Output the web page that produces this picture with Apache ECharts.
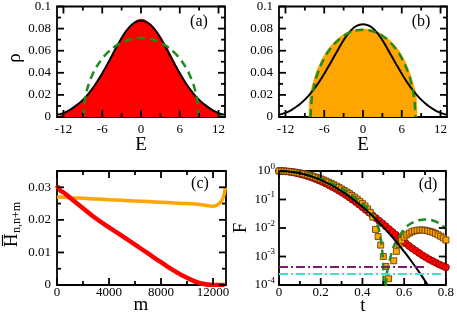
<!DOCTYPE html>
<html><head><meta charset="utf-8">
<script src="https://cdn.jsdelivr.net/npm/echarts@6/dist/echarts.min.js"></script>
<style>html,body{margin:0;padding:0;background:#fff}#c{width:457px;height:315px}</style>
</head><body><div id="c"></div>
<script>
// ---------- Panel (a) ----------
const histEnergyA = [-12.75,-12.5,-12,-11.5,-11,-10.5,-10,-9.5,-9,-8.5,-8,-7.5,-7,-6.5,-6,-5.5,-5,-4.5,-4,-3.5,-3,-2.5,-2,-1.5,-1,-0.5,0,0.5,1,1.5,2,2.5,3,3.5,4,4.5,5,5.5,6,6.5,7,7.5,8,8.5,9,9.5,10,10.5,11,11.5,12,12.5,12.75];
const histRhoA = [0,0.0010,0.0030,0.0045,0.0063,0.0080,0.0102,0.0128,0.0152,0.0185,0.0218,0.0258,0.0298,0.0345,0.0393,0.0448,0.0502,0.0557,0.0612,0.0665,0.0716,0.0762,0.0803,0.0838,0.0862,0.0878,0.0885,0.0880,0.0862,0.0842,0.0810,0.0772,0.0728,0.0680,0.0628,0.0573,0.0515,0.0458,0.0402,0.0350,0.0302,0.0260,0.0220,0.0185,0.0153,0.0126,0.0101,0.0080,0.0062,0.0046,0.0031,0.0012,0];
const curveEnergy = [-13,-12,-11,-10,-9,-8,-7,-6,-5,-4,-3,-2,-1,0,1,2,3,4,5,6,7,8,9,10,11,12,13];
const gaussRhoA = [0.0020,0.0035,0.0065,0.0105,0.0155,0.0220,0.0300,0.0395,0.0500,0.0610,0.0715,0.0800,0.0853,0.0870,0.0853,0.0800,0.0715,0.0610,0.0500,0.0395,0.0300,0.0220,0.0155,0.0105,0.0065,0.0035,0.0020];
const semiEnergyA = [-8.9,-8.8,-8.6,-8.3,-8,-7.5,-7,-6,-5,-4,-3,-2,-1,0,1,2,3,4,5,6,7,7.5,8,8.3,8.6,8.8,8.9];
const semiRhoA = [0,0.0107,0.0184,0.0258,0.0313,0.0385,0.0442,0.0528,0.0592,0.0639,0.0673,0.0697,0.0710,0.0715,0.0710,0.0697,0.0673,0.0639,0.0592,0.0528,0.0442,0.0385,0.0313,0.0258,0.0184,0.0107,0];
// ---------- Panel (b) ----------
const histEnergyB = [-8.35,-8.25,-8.1,-7.8,-7.5,-7,-6,-5,-4,-3,-2,-1,0,1,2,3,4,5,6,7,7.5,7.8,8.1,8.25,8.35];
const histRhoB = [0,0.0150,0.0220,0.0290,0.0350,0.0435,0.0555,0.0640,0.0700,0.0745,0.0775,0.0790,0.0795,0.0790,0.0775,0.0745,0.0700,0.0640,0.0555,0.0435,0.0350,0.0290,0.0220,0.0150,0];
const gaussRhoB = [0.0020,0.0037,0.0066,0.0106,0.0157,0.0222,0.0300,0.0392,0.0492,0.0596,0.0695,0.0775,0.0825,0.0840,0.0825,0.0775,0.0695,0.0596,0.0492,0.0392,0.0300,0.0222,0.0157,0.0106,0.0066,0.0037,0.0020];
const semiEnergyB = [-8.1,-8,-7.8,-7.5,-7,-6,-5,-4,-3,-2,-1,0,1,2,3,4,5,6,7,7.5,7.8,8,8.1];
const semiRhoB = [0,0.0124,0.0213,0.0298,0.0398,0.0531,0.0622,0.0687,0.0734,0.0766,0.0784,0.0790,0.0784,0.0766,0.0734,0.0687,0.0622,0.0531,0.0398,0.0298,0.0213,0.0124,0];
// ---------- Panel (c) ----------
const lagRed = [0,250,500,1000,2000,3000,4000,5000,6000,7000,8000,9000,10000,11000,12000,12900];
const hRed = [0.0305,0.0290,0.0284,0.0268,0.0236,0.0204,0.0177,0.0151,0.0124,0.0097,0.0070,0.0044,0.0022,0.0006,0.0000,0.0000];
const lagOrange = [0,1000,2000,3000,4000,5000,6000,7000,8000,9000,10000,11000,11500,12000,12300,12600,12800,12950];
const hOrange = [0.0271,0.0268,0.0266,0.0264,0.0262,0.0260,0.0258,0.0256,0.0254,0.0252,0.0250,0.0247,0.0244,0.0242,0.0245,0.0255,0.0270,0.0300];
// ---------- Panel (d) ----------
const timeRed = [0,0.016,0.032,0.048,0.064,0.08,0.096,0.112,0.128,0.144,0.16,0.176,0.192,0.208,0.224,0.24,0.256,0.272,0.288,0.304,0.32,0.336,0.352,0.368,0.384,0.4,0.416,0.432,0.448,0.464,0.48,0.496,0.512,0.528,0.544,0.56,0.576,0.592,0.608,0.624,0.64,0.656,0.672,0.688,0.704,0.72,0.736,0.752,0.768,0.784,0.8];
const fRed = [1,0.992,0.972,0.942,0.904,0.859,0.808,0.753,0.697,0.638,0.581,0.522,0.468,0.414,0.365,0.318,0.275,0.237,0.202,0.171,0.144,0.120,0.0989,0.0813,0.0664,0.0537,0.0432,0.0347,0.0279,0.0224,0.0180,0.0145,0.0115,0.00912,0.00724,0.00575,0.00457,0.00363,0.00288,0.00234,0.00191,0.00158,0.00132,0.00110,0.000933,0.000794,0.000692,0.000603,0.000525,0.000468,0.000417];
const timeOrange = [0,0.0125,0.025,0.0375,0.05,0.0625,0.075,0.0875,0.1,0.1125,0.125,0.1375,0.15,0.1625,0.175,0.1875,0.2,0.2125,0.225,0.2375,0.25,0.2625,0.275,0.2875,0.3,0.3125,0.325,0.3375,0.35,0.3625,0.375,0.3875,0.4,0.4125,0.425,0.4375,0.45,0.4625,0.475,0.4875,0.5,0.5125,0.525,0.55,0.5625,0.575,0.5875,0.6,0.6125,0.625,0.6375,0.65,0.6625,0.675,0.6875,0.7,0.7125,0.725,0.7375,0.75,0.7625,0.775,0.7875,0.8];
const fOrange = [1,0.998,0.991,0.977,0.962,0.940,0.914,0.885,0.853,0.817,0.778,0.738,0.697,0.655,0.612,0.570,0.528,0.486,0.445,0.405,0.366,0.330,0.296,0.265,0.234,0.207,0.183,0.160,0.139,0.120,0.102,0.0861,0.0716,0.0589,0.0468,0.0355,0.0240,0.00891,0.00501,0.00251,0.00100,0.000447,0.000166,0.000708,0.00151,0.00263,0.00372,0.00479,0.00575,0.00661,0.00741,0.00794,0.00832,0.00851,0.00851,0.00832,0.00794,0.00759,0.00708,0.00646,0.00575,0.00513,0.00447,0.00380];
const timeBlack = [0,0.04,0.08,0.12,0.16,0.2,0.24,0.28,0.32,0.36,0.4,0.44,0.48,0.52,0.56,0.6,0.64,0.68,0.72];
const fBlack = [1,0.971,0.891,0.770,0.629,0.485,0.353,0.242,0.157,0.0958,0.0553,0.0301,0.0155,0.0075,0.00343,0.00148,0.000604,0.000232,0.0000841];
const timeGreen = [0,0.04,0.08,0.12,0.16,0.2,0.24,0.28,0.32,0.36,0.4,0.42,0.44,0.46,0.475,0.485,0.495,0.5,0.505,0.51,0.515,0.525,0.535,0.55,0.565,0.58,0.6,0.62,0.643,0.67,0.7,0.73,0.76,0.78,0.8];
const fGreen = [1,0.975,0.904,0.794,0.665,0.528,0.398,0.285,0.193,0.123,0.0724,0.0525,0.0355,0.0209,0.0112,0.00562,0.00158,0.000398,0.00001,0.0000316,0.0002,0.0005,0.001,0.00224,0.00372,0.00562,0.00891,0.0126,0.0158,0.0186,0.02,0.0191,0.0158,0.0126,0.00955];
const purpleLevel = 0.00043, purpleEnd = 0.71;
const cyanLevel = 0.000245, cyanEnd = 0.79;
// ---------- Ticks ----------
const ticksE = [-12,-6,0,6,12], minorE = [-9,-3,3,9];
const ticksRho = [0,0.02,0.04,0.06,0.08,0.1], minorRho = [0.01,0.03,0.05,0.07,0.09];
const ticksM = [0,4000,8000,12000], minorM = [2000,6000,10000];
const ticksH = [0,0.01,0.02,0.03], minorH = [0.005,0.015,0.025];
const ticksT = [0,0.2,0.4,0.6,0.8], minorT = [0.1,0.3,0.5,0.7];
const ticksF = [0.0001,0.001,0.01,0.1,1];

const FONT = 'Liberation Serif';
const zip = (a, b) => a.map((v, i) => [v, b[i]]);

const frame = {show: true, borderColor: '#000', borderWidth: 1.8, backgroundColor: 'transparent'};
const grids = [
  Object.assign({left: 57, top: 5, width: 168, height: 112}, frame),
  Object.assign({left: 279, top: 5, width: 168, height: 112}, frame),
  Object.assign({left: 57, top: 171, width: 169, height: 114}, frame),
  Object.assign({left: 279, top: 171, width: 168, height: 114}, frame)
];

function mkAxis(gi, pos, type, min, max, label) {
  const a = {gridIndex: gi, position: pos, type: type, min: min, max: max,
    axisLine: {show: false, onZero: false}, axisTick: {show: false}, minorTick: {show: false},
    splitLine: {show: false}, axisLabel: label};
  if (type === 'log') a.logBase = 10;
  return a;
}
function lab(margin, values) {
  return {show: true, customValues: values, formatter: v => String(v), color: '#000', fontFamily: FONT, fontSize: 13, margin: margin};
}
const logLab = {
  show: true, margin: 4,
  formatter: v => '{b|10}{e|' + Math.round(Math.log10(v)) + '}',
  rich: {
    b: {fontFamily: FONT, fontSize: 13, color: '#000', lineHeight: 16, verticalAlign: 'middle'},
    e: {fontFamily: FONT, fontSize: 9, color: '#000', lineHeight: 9, verticalAlign: 'middle', padding: [0, 0, 9, 0]}
  }
};
const xAxes = [
  mkAxis(0, 'bottom', 'value', -13, 13, lab(6, ticksE)),
  mkAxis(1, 'bottom', 'value', -13, 13, lab(6, ticksE)),
  mkAxis(2, 'bottom', 'value', 0, 13000, lab(1, ticksM)),
  mkAxis(3, 'bottom', 'value', 0, 0.8, lab(1, ticksT))
];
const yAxes = [
  mkAxis(0, 'left', 'value', 0, 0.1, lab(6, ticksRho)),
  mkAxis(1, 'left', 'value', 0, 0.1, lab(6, ticksRho)),
  mkAxis(2, 'left', 'value', 0, 0.035, lab(6, ticksH)),
  mkAxis(3, 'left', 'log', 0.0001, 1, logLab)
];

function S(p, o) { return Object.assign({xAxisIndex: p, yAxisIndex: p, silent: true, animation: false}, o); }

// Inward ticks on all four sides, placed through the panel's own scales.
function tickSeries(p, xMaj, xMin, yMaj, yMin, x0, y0) {
  const data = [];
  xMaj.forEach(v => data.push([v, y0, 0]));
  xMin.forEach(v => data.push([v, y0, 1]));
  yMaj.forEach(v => data.push([x0, v, 2]));
  yMin.forEach(v => data.push([x0, v, 3]));
  return S(p, {type: 'custom', z: 20, clip: false, data: data, renderItem: function (params, api) {
    const kind = api.value(2);
    const pt = api.coord([api.value(0), api.value(1)]);
    const cs = params.coordSys;
    const len = (kind === 0 || kind === 2) ? 7 : 4;
    const st = {stroke: '#000', lineWidth: 1.8};
    if (kind < 2) {
      const b = cs.y + cs.height, t = cs.y;
      return {type: 'group', children: [
        {type: 'line', shape: {x1: pt[0], y1: b, x2: pt[0], y2: b - len}, style: st},
        {type: 'line', shape: {x1: pt[0], y1: t, x2: pt[0], y2: t + len}, style: st}
      ]};
    }
    const l = cs.x, r = cs.x + cs.width;
    return {type: 'group', children: [
      {type: 'line', shape: {x1: l, y1: pt[1], x2: l + len, y2: pt[1]}, style: st},
      {type: 'line', shape: {x1: r, y1: pt[1], x2: r - len, y2: pt[1]}, style: st}
    ]};
  }});
}

const GREEN = '#1e8b1e';
const series = [
  S(0, {type: 'line', data: zip(histEnergyA, histRhoA), symbol: 'none', lineStyle: {color: '#ff0000', width: 1}, areaStyle: {color: '#ff0000', opacity: 1}}),
  S(0, {type: 'line', data: zip(curveEnergy, gaussRhoA), symbol: 'none', smooth: true, lineStyle: {color: '#000', width: 2}}),
  S(0, {type: 'line', data: zip(semiEnergyA, semiRhoA), symbol: 'none', smooth: true, lineStyle: {color: GREEN, width: 2.5, type: [8, 5]}}),
  S(1, {type: 'line', data: zip(histEnergyB, histRhoB), symbol: 'none', smooth: true, lineStyle: {color: '#ffa500', width: 1}, areaStyle: {color: '#ffa500', opacity: 1}}),
  S(1, {type: 'line', data: zip(curveEnergy, gaussRhoB), symbol: 'none', smooth: true, lineStyle: {color: '#000', width: 2}}),
  S(1, {type: 'line', data: zip(semiEnergyB, semiRhoB), symbol: 'none', smooth: true, lineStyle: {color: GREEN, width: 2.5, type: [8, 5]}}),
  S(2, {type: 'line', data: zip(lagOrange, hOrange), symbol: 'none', smooth: true, lineStyle: {color: '#ffa500', width: 3.5}}),
  S(2, {type: 'line', data: zip(lagRed, hRed), symbol: 'none', smooth: true, lineStyle: {color: '#ff0000', width: 4.5}}),
  S(3, {type: 'scatter', data: zip(timeRed, fRed), symbol: 'circle', symbolSize: 7, itemStyle: {color: '#ff0000', borderColor: '#7a0000', borderWidth: 0.8, opacity: 1}}),
  S(3, {type: 'scatter', data: zip(timeOrange, fOrange), symbol: 'rect', symbolSize: 6, itemStyle: {color: '#ffa500', borderColor: '#5a3000', borderWidth: 0.8, opacity: 1}}),
  S(3, {type: 'line', data: zip(timeGreen, fGreen), symbol: 'none', smooth: 0.3, lineStyle: {color: GREEN, width: 2.5, type: [8, 5]}}),
  S(3, {type: 'line', data: zip(timeBlack, fBlack), symbol: 'none', smooth: true, lineStyle: {color: '#000', width: 2}}),
  S(3, {type: 'line', data: [[0, purpleLevel], [purpleEnd, purpleLevel]], symbol: 'none', lineStyle: {color: '#7b1f6a', width: 2, type: [9, 3, 2, 3]}}),
  S(3, {type: 'line', data: [[0, cyanLevel], [cyanEnd, cyanLevel]], symbol: 'none', lineStyle: {color: '#40e0d0', width: 2, type: [9, 3, 2, 3]}}),
  tickSeries(0, ticksE, minorE, ticksRho, minorRho, -13, 0),
  tickSeries(1, ticksE, minorE, ticksRho, minorRho, -13, 0),
  tickSeries(2, ticksM, minorM, ticksH, minorH, 0, 0),
  tickSeries(3, ticksT, minorT, ticksF, [], 0, 0.0001)
];

function txt(x, y, t, size, rot) {
  return {type: 'text', x: x, y: y, rotation: rot || 0, silent: true,
    style: {text: t, fontFamily: FONT, fontSize: size, fill: '#000', align: 'center', verticalAlign: 'middle'}};
}
const graphic = [
  txt(15, 58, 'ρ', 19, Math.PI / 2),
  txt(141, 145, 'E', 19),
  txt(363, 145, 'E', 19),
  txt(141, 305, 'm', 19),
  txt(363, 306, 't', 19),
  txt(241, 228, 'F', 19, Math.PI / 2),
  txt(199, 22, '(a)', 16),
  txt(421, 22, '(b)', 16),
  txt(200, 184, '(c)', 16),
  txt(428, 185, '(d)', 16),
  {type: 'group', x: 12, y: 225, rotation: Math.PI / 2, silent: true, children: [
    {type: 'text', x: -15.5, y: 0, style: {text: 'H', fontFamily: FONT, fontSize: 19, fill: '#000', align: 'center', verticalAlign: 'middle'}},
    {type: 'text', x: -8, y: 5, style: {text: 'n,n+m', fontFamily: FONT, fontSize: 12, fill: '#000', align: 'left', verticalAlign: 'middle'}},
    {type: 'line', shape: {x1: -21, y1: -9.5, x2: -10, y2: -9.5}, style: {stroke: '#000', lineWidth: 1.2}}
  ]}
];

const chart = echarts.init(document.getElementById('c'), null, {renderer: 'canvas'});
chart.setOption({
  animation: false,
  backgroundColor: '#fff',
  grid: grids,
  xAxis: xAxes,
  yAxis: yAxes,
  series: series,
  graphic: graphic
});
</script>
</body></html>
